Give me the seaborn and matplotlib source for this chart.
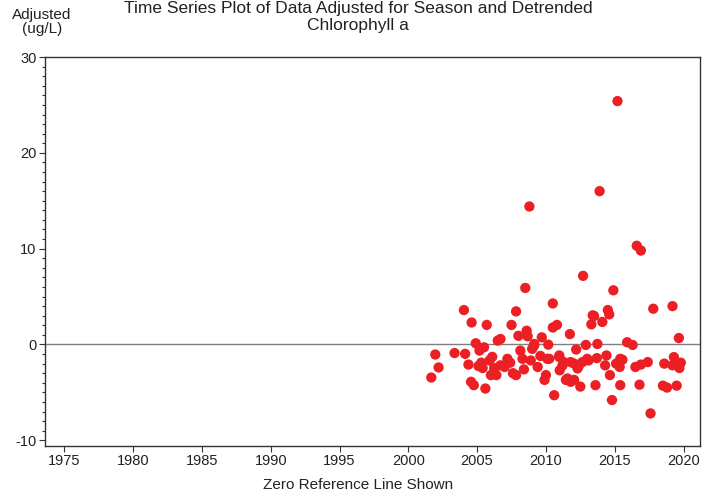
import numpy as np
import pandas as pd
import matplotlib
matplotlib.use('Agg')
import matplotlib.pyplot as plt
import seaborn as sns
from matplotlib.ticker import MultipleLocator

# decimal year of each sample, and adjusted chlorophyll a (ug/L)
years = [
    2001.67, 2001.96, 2002.2, 2003.36, 2004.04, 2004.6, 2005.7, 2004.9, 2004.13, 2004.37,
    2005.17, 2005.5, 2005.1, 2005.9, 2005.4, 2006.5, 2006.25, 2006.0, 2004.56, 2004.76,
    2005.6, 2008.5, 2010.5, 2007.83, 2007.5, 2008.6, 2006.7, 2008.0, 2008.67, 2010.5,
    2010.8, 2009.7, 2011.74, 2013.4, 2013.3, 2009.15, 2009.0, 2010.17, 2012.2, 2012.9,
    2008.14, 2008.3, 2007.2, 2007.0, 2006.4, 2007.83, 2008.9, 2009.4, 2010.0, 2009.9,
    2010.24, 2010.96, 2011.2, 2011.57, 2012.05, 2012.5, 2012.3, 2011.8, 2013.0, 2013.6,
    2010.6, 2014.9, 2014.5, 2014.6, 2013.5, 2014.1, 2017.8, 2019.2, 2019.66, 2013.74,
    2015.9, 2016.3, 2013.7, 2014.4, 2014.3, 2015.1, 2015.56, 2015.36, 2016.5, 2016.9,
    2017.4, 2018.6, 2019.3, 2019.2, 2019.7, 2019.8, 2014.65, 2015.4, 2016.8, 2018.5,
    2018.8, 2019.5, 2014.8, 2017.6, 2015.2, 2013.9, 2008.8, 2016.6, 2016.9, 2012.7,
    2010.1, 2010.97, 2011.3, 2012.05, 2012.65, 2013.1, 2011.45, 2011.8, 2007.6, 2006.7,
    2006.25, 2009.15, 2015.4, 2006.1, 2007.4, 2008.4, 2009.6, 2011.0, 2012.4, 2005.3,
]
adjusted = [
    -3.45, -1.05, -2.4, -0.9, 3.59, 2.29, 2.04, 0.12, -0.98, -2.1,
    -0.64, -0.3, -2.25, -1.67, -2.46, 0.4, -2.46, -3.2, -3.9, -4.25,
    -4.6, 5.9, 4.28, 3.45, 2.04, 1.43, 0.57, 0.9, 0.85, 1.77,
    2.04, 0.74, 1.08, 3.04, 2.1, 0.05, -0.46, -0.02, -0.53, -0.05,
    -0.64, -1.5, -1.5, -2.35, -3.2, -3.2, -1.67, -2.35, -3.2, -3.7,
    -1.5, -1.3, -2.2, -3.55, -3.7, -4.4, -2.5, -1.84, -1.5, -4.25,
    -5.3, 5.65, 3.59, 3.14, 2.97, 2.35, 3.73, 4.0, 0.67, 0.05,
    0.23, -0.05, -1.43, -1.15, -2.18, -2.0, -1.6, -2.35, -2.35, -2.1,
    -1.84, -2.0, -1.32, -2.18, -2.46, -1.9, -3.2, -4.25, -4.2, -4.3,
    -4.5, -4.3, -5.8, -7.2, 25.4, 16.0, 14.4, 10.3, 9.8, 7.16,
    -1.5, -1.15, -1.84, -2.0, -1.84, -1.67, -3.7, -3.9, -3.0, -2.18,
    -2.5, -0.1, -1.5, -1.3, -1.9, -2.6, -1.2, -2.7, -2.2, -1.9,
]

df = pd.DataFrame({'year': years, 'adjusted': adjusted})

sns.set_style('white')
plt.rcParams['font.family'] = ['Liberation Sans', 'DejaVu Sans']
plt.rcParams['axes.unicode_minus'] = False

fig = plt.figure(figsize=(7.18, 4.98), dpi=100)
ax = fig.add_axes([0.0627, 0.1044, 0.9123, 0.7811])

ax.axhline(0, color='#7f7f7f', lw=1.0, zorder=1)
sns.scatterplot(data=df, x='year', y='adjusted', ax=ax, color='#ec1f24',
                s=55, edgecolor='none', zorder=3, legend=False)

ax.set_xlim(1973.6, 2021.2)
ax.set_ylim(-10.6, 30)
ax.set_xticks(range(1975, 2021, 5))
ax.yaxis.set_major_locator(MultipleLocator(10))
ax.yaxis.set_minor_locator(MultipleLocator(1))
ax.tick_params(axis='both', which='major', direction='out', length=4, width=0.8,
               color='#333333', labelsize=10.5, labelcolor='#222222', pad=2)
ax.tick_params(axis='y', which='minor', direction='out', length=2, width=0.8,
               color='#333333', left=True)
ax.tick_params(axis='x', bottom=True)
ax.tick_params(axis='y', left=True)
for sp in ax.spines.values():
    sp.set_color('#333333')
    sp.set_linewidth(1.0)

ax.set_xlabel('')
ax.set_ylabel('')
fig.text(358 / 718, 1 - 485 / 498, 'Zero Reference Line Shown', ha='center', va='center',
         fontsize=11, color='#222222')
fig.text(42 / 718, 1 - 22 / 498, 'Adjusted\n(ug/L)', ha='center', va='center',
         fontsize=11, color='#222222', linespacing=1.05)
fig.text(358 / 718, 1 - 17 / 498,
         'Time Series Plot of Data Adjusted for Season and Detrended\nChlorophyll a',
         ha='center', va='center', fontsize=12.5, color='#222222', linespacing=1.15)

fig.savefig('out.png', dpi=100)
